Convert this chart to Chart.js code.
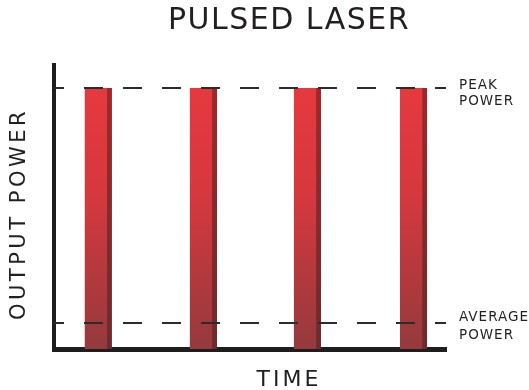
<!DOCTYPE html>
<html>
<head>
<meta charset="utf-8">
<title>Pulsed laser</title>
<script src="https://cdn.jsdelivr.net/npm/chart.js@4.4.1/dist/chart.umd.min.js"></script>
<style>
    body { margin: 0; background: #fff; }
    #wrap { width: 529px; height: 390px; }
</style>
</head>
<body>
<div id="wrap"><canvas id="laserChart" width="529" height="390"></canvas></div>
<script>
// pulse data (time in arbitrary units, power in % of peak)
const pulseTimes = [0.42, 1.42, 2.41, 3.42];
const pulsePower = [100, 100, 100, 100];
const peakPower = 100;
const averagePower = 10;
const timeRange = [0, 3.73];
const powerRange = [0, 108.8];
const titleText = 'PULSED LASER';
const xTitle = 'TIME';
const yTitle = 'OUTPUT POWER';
const peakLabel = ['PEAK', 'POWER'];
const averageLabel = ['AVERAGE', 'POWER'];

const FONT = '"DejaVu Sans", sans-serif';
const INK = '#231f20';

function barGradient(context, stops) {
    const area = context.chart.chartArea;
    if (!area) return stops[0][1];
    const g = context.chart.ctx.createLinearGradient(0, area.top, 0, area.bottom);
    stops.forEach(s => g.addColorStop(s[0], s[1]));
    return g;
}

// titles and level labels
const textPlugin = {
    id: 'laserText',
    afterDraw(chart) {
        const ctx = chart.ctx;
        const y = chart.scales.y;
        ctx.save();
        ctx.fillStyle = INK;
        ctx.textBaseline = 'alphabetic';

        ctx.textAlign = 'center';
        ctx.font = '30px ' + FONT;
        ctx.letterSpacing = '1.5px';
        ctx.fillText(titleText, 289, 29);

        ctx.font = '22px ' + FONT;
        ctx.letterSpacing = '3px';
        ctx.fillText(xTitle, 289, 386);

        ctx.save();
        ctx.translate(25, 214);
        ctx.rotate(-Math.PI / 2);
        ctx.font = '21px ' + FONT;
        ctx.letterSpacing = '3.5px';
        ctx.fillText(yTitle, 0, 0);
        ctx.restore();

        ctx.textAlign = 'left';
        ctx.font = '13.5px ' + FONT;
        ctx.letterSpacing = '1px';
        const py = y.getPixelForValue(peakPower);
        ctx.fillText(peakLabel[0], 459, py + 1);
        ctx.fillText(peakLabel[1], 459, py + 17);
        const ay = y.getPixelForValue(averagePower);
        ctx.fillText(averageLabel[0], 459, ay - 2);
        ctx.fillText(averageLabel[1], 459, ay + 16);
        ctx.restore();
    }
};

function levelLine(value) {
    return {
        type: 'line',
        data: [{ x: timeRange[0], y: value }, { x: timeRange[1], y: value }],
        borderColor: '#2b2b2b',
        borderWidth: 2,
        borderDash: [19, 20],
        borderDashOffset: 9,
        pointRadius: 0,
        order: 0
    };
}

const chart = new Chart(document.getElementById('laserChart'), {
    type: 'bar',
    data: {
        datasets: [
            levelLine(peakPower),
            levelLine(averagePower),
            {
                type: 'bar',
                data: pulseTimes.map((t, i) => ({ x: t, y: pulsePower[i] })),
                barThickness: 27,
                backgroundColor: ctx => barGradient(ctx, [[0, '#e8393f'], [0.45, '#d6383e'], [1, '#953a3d']]),
                borderColor: ctx => barGradient(ctx, [[0, '#a2282c'], [1, '#6c2b2d']]),
                borderWidth: { top: 0, right: 5, bottom: 0, left: 0 },
                borderSkipped: false,
                order: 1
            }
        ]
    },
    options: {
        responsive: false,
        animation: false,
        layout: { padding: { left: 54, top: 65, right: 83, bottom: 41 } },
        plugins: {
            legend: { display: false },
            tooltip: { enabled: false }
        },
        scales: {
            x: {
                type: 'linear',
                offset: false,
                min: timeRange[0],
                max: timeRange[1],
                grid: { display: false, drawTicks: false, offset: false },
                ticks: { display: false },
                border: { display: true, color: '#1e1e1e', width: 5 }
            },
            y: {
                min: powerRange[0],
                max: powerRange[1],
                grid: { display: false, drawTicks: false },
                ticks: { display: false },
                border: { display: true, color: '#1e1e1e', width: 4 }
            }
        }
    },
    plugins: [textPlugin]
});
</script>
</body>
</html>
